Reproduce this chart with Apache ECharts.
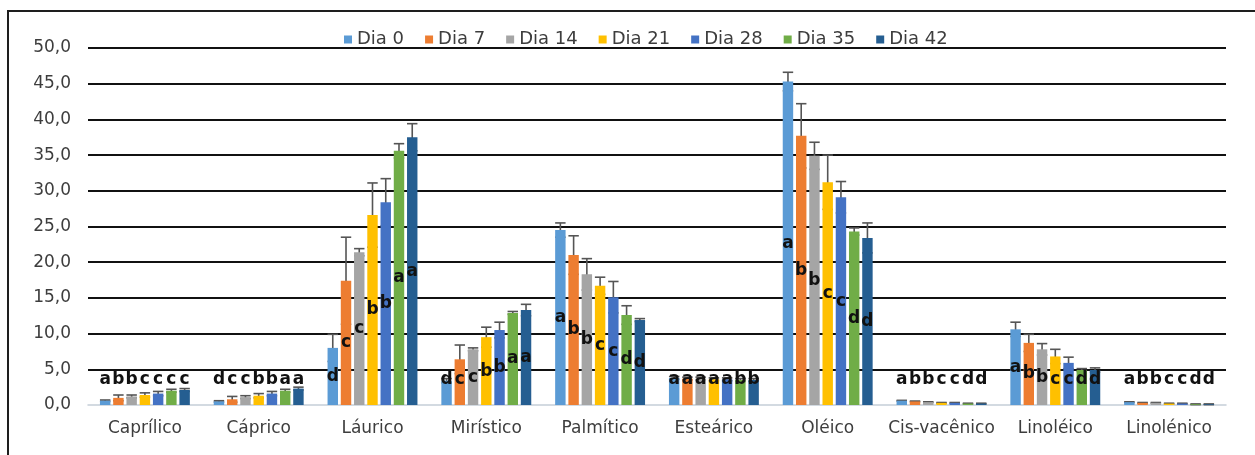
<!DOCTYPE html>
<html>
<head>
<meta charset="utf-8">
<script src="https://cdn.jsdelivr.net/npm/echarts@6/dist/echarts.min.js"></script>
<style>
  html, body { margin: 0; padding: 0; background: #fff; }
  #chart { width: 1255px; height: 455px; }
</style>
</head>
<body>
<div id="chart"></div>
<script>
// Fatty acid profile (%) over storage days, with SD error bars and significance letters
const categories = ['Caprílico', 'Cáprico', 'Láurico', 'Mirístico', 'Palmítico', 'Esteárico', 'Oléico', 'Cis-vacênico', 'Linoléico', 'Linolénico'];
const days = ['Dia 0', 'Dia 7', 'Dia 14', 'Dia 21', 'Dia 28', 'Dia 35', 'Dia 42'];

const dia0  = [0.6, 0.5, 8.0, 3.4, 24.5, 3.8, 45.3, 0.6, 10.6, 0.4];
const dia7  = [1.0, 0.8, 17.4, 6.4, 21.0, 3.7, 37.7, 0.5, 8.7, 0.3];
const dia14 = [1.2, 1.1, 21.4, 7.8, 18.3, 3.7, 34.9, 0.4, 7.8, 0.3];
const dia21 = [1.4, 1.3, 26.6, 9.5, 16.7, 3.6, 31.2, 0.3, 6.8, 0.2];
const dia28 = [1.6, 1.6, 28.4, 10.5, 15.1, 3.6, 29.1, 0.3, 5.9, 0.2];
const dia35 = [2.0, 2.0, 35.6, 12.9, 12.6, 3.5, 24.3, 0.2, 4.9, 0.1];
const dia42 = [2.1, 2.3, 37.5, 13.3, 11.9, 3.5, 23.4, 0.2, 4.9, 0.1];

const sd0  = [0.1, 0.1, 1.9, 0.3, 1.0, 0.2, 1.3, 0.05, 1.0, 0.05];
const sd7  = [0.4, 0.4, 6.1, 2.0, 2.7, 0.2, 4.5, 0.05, 1.2, 0.05];
const sd14 = [0.2, 0.2, 0.5, 0.2, 2.2, 0.2, 1.9, 0.05, 0.8, 0.05];
const sd21 = [0.3, 0.3, 4.5, 1.4, 1.2, 0.2, 3.8, 0.05, 1.0, 0.05];
const sd28 = [0.3, 0.3, 3.3, 1.1, 2.2, 0.2, 2.2, 0.05, 0.8, 0.05];
const sd35 = [0.2, 0.2, 1.0, 0.2, 1.3, 0.2, 0.5, 0.05, 0.2, 0.05];
const sd42 = [0.2, 0.2, 1.9, 0.8, 0.2, 0.2, 2.1, 0.05, 0.3, 0.05];

const let0  = ['a', 'd', 'd', 'd', 'a', 'a', 'a', 'a', 'a', 'a'];
const let7  = ['b', 'c', 'c', 'c', 'b', 'a', 'b', 'b', 'b', 'b'];
const let14 = ['b', 'c', 'c', 'c', 'b', 'a', 'b', 'b', 'b', 'b'];
const let21 = ['c', 'b', 'b', 'b', 'c', 'a', 'c', 'c', 'c', 'c'];
const let28 = ['c', 'b', 'b', 'b', 'c', 'a', 'c', 'c', 'c', 'c'];
const let35 = ['c', 'a', 'a', 'a', 'd', 'b', 'd', 'd', 'd', 'd'];
const let42 = ['c', 'a', 'a', 'a', 'd', 'b', 'd', 'd', 'd', 'd'];

const yTicks = [0, 5, 10, 15, 20, 25, 30, 35, 40, 45, 50];

const values = [dia0, dia7, dia14, dia21, dia28, dia35, dia42];
const sds = [sd0, sd7, sd14, sd21, sd28, sd35, sd42];
const letters = [let0, let7, let14, let21, let28, let35, let42];
const colors = ['#5B9BD5', '#ED7D31', '#A5A5A5', '#FFC000', '#4472C4', '#70AD47', '#255E91'];

const CAT_GAP = 0.21;
const BAR_GAP = 0.27;
const LABEL_MIN = 3.7;   // short bars carry their letter at this height

const textColor = '#3d3d3d';
const fontFamily = 'DejaVu Sans';

const barSeries = days.map((name, s) => ({
  name: name,
  type: 'bar',
  z: 2,
  barCategoryGap: (CAT_GAP * 100) + '%',
  barGap: (BAR_GAP * 100) + '%',
  itemStyle: { color: colors[s] },
  data: values[s].map((v, c) => {
    const tall = v / 2 >= LABEL_MIN;
    return {
      value: v,
      label: {
        show: true,
        position: tall ? 'inside' : 'insideBottom',
        distance: tall ? 0 : 17,
        formatter: letters[s][c],
        color: '#111',
        textBorderWidth: 0,
        textBorderColor: 'transparent',
        fontFamily: fontFamily,
        fontWeight: 'bold',
        fontSize: 17,
        lineHeight: 17
      }
    };
  })
}));

function errorRenderer(s) {
  const n = days.length;
  return function (params, api) {
    const cat = api.value(0);
    const v = api.value(1);
    const e = api.value(2);
    const band = api.size([1, 0])[0];
    const avail = band * (1 - CAT_GAP);
    const bw = avail / (n + (n - 1) * BAR_GAP);
    const c = api.coord([cat, v]);
    const x = c[0] - avail / 2 + s * bw * (1 + BAR_GAP) + bw / 2;
    const yTop = api.coord([cat, v + e])[1];
    const yBot = api.coord([cat, Math.max(v - e, 0)])[1];
    const half = bw / 2;
    const style = { stroke: '#555', lineWidth: 1.6 };
    return {
      type: 'group',
      children: [
        { type: 'line', z2: 0, shape: { x1: x, y1: yTop, x2: x, y2: yBot }, style: style },
        { type: 'line', z2: 0, shape: { x1: x - half, y1: yTop, x2: x + half, y2: yTop }, style: style },
        { type: 'line', z2: 0, shape: { x1: x - half, y1: yBot, x2: x + half, y2: yBot }, style: style }
      ]
    };
  };
}

// same z as the bars: drawn after them, while bar letters (higher z2) stay on top
const errSeries = days.map((name, s) => ({
  type: 'custom',
  z: 2,
  silent: true,
  renderItem: errorRenderer(s),
  encode: { x: 0, y: 1 },
  data: values[s].map((v, c) => [c, v, sds[s][c]])
}));

const chart = echarts.init(document.getElementById('chart'), null, { renderer: 'canvas' });
chart.setOption({
  animation: false,
  backgroundColor: '#ffffff',
  graphic: [{
    type: 'rect',
    shape: { x: 8, y: 11, width: 1270, height: 470 },
    style: { fill: 'none', stroke: '#1e1e1e', lineWidth: 2 },
    z: 0
  }],
  legend: {
    data: days,
    left: 339,
    top: 25,
    itemWidth: 8,
    itemHeight: 8,
    itemGap: 21,
    icon: 'rect',
    textStyle: { color: textColor, fontSize: 18, fontFamily: fontFamily, lineHeight: 19 }
  },
  grid: { left: 88, right: 29, top: 48, bottom: 50 },
  xAxis: {
    type: 'category',
    data: categories,
    axisLine: { show: true, lineStyle: { color: '#c5ced8', width: 1.5 } },
    axisTick: { show: false },
    axisLabel: { color: textColor, fontSize: 17, fontFamily: fontFamily, margin: 15, interval: 0 }
  },
  yAxis: {
    type: 'value',
    min: yTicks[0],
    max: yTicks[yTicks.length - 1],
    interval: yTicks[1] - yTicks[0],
    axisLine: { show: false },
    axisTick: { show: false },
    splitLine: { show: true, showMinLine: false, lineStyle: { color: '#111', width: 2 } },
    axisLabel: {
      color: textColor, fontSize: 17, fontFamily: fontFamily, margin: 17,
      formatter: v => v.toFixed(1).replace('.', ',')
    }
  },
  series: barSeries.concat(errSeries)
});
</script>
</body>
</html>
